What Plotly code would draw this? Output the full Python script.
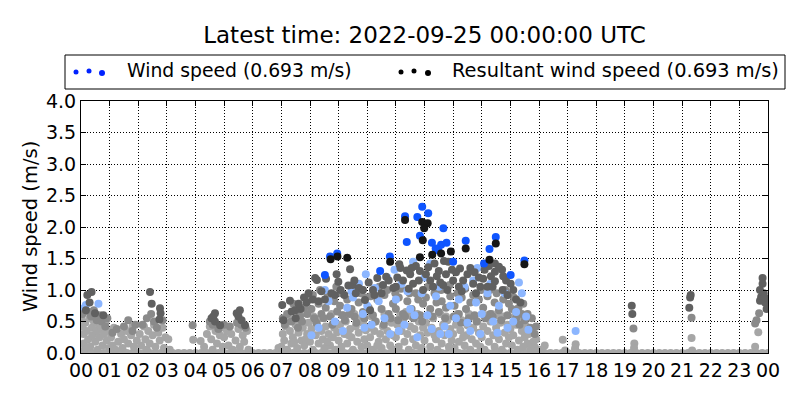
import plotly.graph_objects as go

# ---------------- data (hours of day, wind speed m/s) ----------------
HOUR_TICKS = list(range(25))
HOUR_LABELS = ["%02d" % (h % 24) for h in range(25)]
Y_TICKS = [0.0, 0.5, 1.0, 1.5, 2.0, 2.5, 3.0, 3.5, 4.0]
Y_LABELS = ["0.0", "0.5", "1.0", "1.5", "2.0", "2.5", "3.0", "3.5", "4.0"]

zero_times = [0.0, 0.2, 0.4, 0.6, 0.8, 1.0, 1.2, 1.4, 1.6, 1.8, 2.0, 2.2, 2.4, 2.6, 2.8,
              3.0, 3.2, 3.4, 3.6, 3.8, 4.0, 4.2, 4.4, 4.6, 4.8, 5.0, 5.2, 5.4, 5.6, 5.8,
              6.0, 6.2, 6.4, 6.6, 6.8, 7.0, 7.2, 7.4, 7.6, 7.8, 8.0, 8.2, 8.4, 8.6, 8.8,
              9.0, 9.2, 9.4, 9.6, 9.8, 10.0, 10.2, 10.4, 10.6, 10.8, 11.0, 11.2, 11.4, 11.6, 11.8,
              12.0, 12.2, 12.4, 12.6, 12.8, 13.0, 13.2, 13.4, 13.6, 13.8, 14.0, 14.2, 14.4, 14.6, 14.8,
              15.0, 15.2, 15.4, 15.6, 15.8, 16.0, 16.2, 16.4, 16.6, 16.8, 17.0, 17.2, 17.4, 17.6, 17.8,
              18.0, 18.2, 18.4, 18.6, 18.8, 19.0, 19.2, 19.4, 19.6, 19.8, 20.0, 20.2, 20.4, 20.6, 20.8,
              21.0, 21.2, 21.4, 21.6, 21.8, 22.0, 22.2, 22.4, 22.6, 22.8, 23.0, 23.2, 23.4, 23.6, 23.8, 24.0]
zero_speeds = [0.0] * len(zero_times)

light_grey = [
    (0.02, 0.55), (0.05, 0.42), (0.08, 0.30), (0.1, 0.15), (0.12, 0.05), (0.15, 0.48), (0.2, 0.35),
    (0.25, 0.22), (0.3, 0.55), (0.32, 0.10), (0.38, 0.40), (0.4, 0.28), (0.45, 0.50), (0.5, 0.18),
    (0.55, 0.35), (0.58, 0.05), (0.62, 0.45), (0.65, 0.25), (0.7, 0.38), (0.75, 0.12), (0.8, 0.30),
    (0.85, 0.48), (0.9, 0.20), (0.95, 0.35), (0.98, 0.08),
    (1.05, 0.25), (1.1, 0.12), (1.15, 0.40), (1.2, 0.05), (1.3, 0.18), (1.4, 0.30), (1.45, 0.08),
    (1.5, 0.22), (1.6, 0.35), (1.65, 0.15), (1.75, 0.28), (1.8, 0.42), (1.85, 0.10), (1.95, 0.20),
    (2.05, 0.30), (2.1, 0.12), (2.2, 0.42), (2.25, 0.22), (2.3, 0.05), (2.35, 0.35), (2.4, 0.15),
    (2.5, 0.28), (2.55, 0.45), (2.6, 0.10), (2.7, 0.32), (2.75, 0.20), (2.85, 0.40), (2.9, 0.08),
    (2.95, 0.25), (3.05, 0.22), (3.1, 0.05), (3.92, 0.21), (4.18, 0.19),
    (4.3, 0.10), (4.4, 0.30), (4.5, 0.42), (4.55, 0.22), (4.6, 0.05), (4.7, 0.35), (4.75, 0.15),
    (4.85, 0.28), (4.9, 0.40), (4.95, 0.10), (5.0, 0.25), (5.1, 0.35), (5.15, 0.12), (5.25, 0.30),
    (5.3, 0.05), (5.4, 0.20), (5.5, 0.38), (5.55, 0.10), (5.65, 0.28), (5.7, 0.18), (5.8, 0.35),
    (5.85, 0.05), (6.9, 0.08),
    (7.0, 0.10), (7.05, 0.30), (7.1, 0.20), (7.15, 0.42), (7.2, 0.05), (7.3, 0.35), (7.35, 0.15),
    (7.4, 0.25), (7.5, 0.45), (7.55, 0.08), (7.6, 0.32), (7.7, 0.20), (7.75, 0.40), (7.8, 0.12),
    (7.9, 0.30), (7.95, 0.48), (7.25, 0.55), (7.45, 0.18), (7.65, 0.60), (7.85, 0.22),
    (8.0, 0.18), (8.05, 0.38), (8.1, 0.05), (8.2, 0.28), (8.25, 0.45), (8.3, 0.15), (8.4, 0.35),
    (8.45, 0.22), (8.5, 0.08), (8.55, 0.42), (8.65, 0.30), (8.7, 0.12), (8.8, 0.25), (8.85, 0.40),
    (8.9, 0.05), (8.95, 0.33), (8.12, 0.58), (8.35, 0.55), (8.6, 0.18), (8.75, 0.62),
    (9.0, 0.20), (9.05, 0.45), (9.1, 0.10), (9.2, 0.30), (9.25, 0.50), (9.3, 0.15), (9.4, 0.38),
    (9.45, 0.25), (9.5, 0.05), (9.6, 0.42), (9.65, 0.18), (9.7, 0.32), (9.8, 0.10), (9.85, 0.48),
    (9.9, 0.22), (9.95, 0.36), (9.12, 0.60), (9.35, 0.28), (9.55, 0.62), (9.75, 0.55),
    (10.0, 0.12), (10.05, 0.40), (10.1, 0.25), (10.2, 0.05), (10.25, 0.35), (10.3, 0.50), (10.4, 0.18),
    (10.45, 0.30), (10.5, 0.08), (10.55, 0.42), (10.65, 0.22), (10.7, 0.35), (10.8, 0.12), (10.85, 0.48),
    (10.9, 0.28), (10.95, 0.05), (10.15, 0.58), (10.35, 0.12), (10.6, 0.62), (10.75, 0.52),
    (11.0, 0.25), (11.05, 0.45), (11.1, 0.10), (11.2, 0.35), (11.25, 0.52), (11.3, 0.18), (11.4, 0.30),
    (11.45, 0.05), (11.5, 0.42), (11.6, 0.22), (11.65, 0.38), (11.7, 0.12), (11.8, 0.50), (11.85, 0.28),
    (11.9, 0.08), (11.95, 0.40), (11.15, 0.60), (11.35, 0.65), (11.55, 0.58), (11.75, 0.62),
    (12.0, 0.20), (12.05, 0.48), (12.1, 0.32), (12.2, 0.10), (12.25, 0.40), (12.3, 0.55), (12.4, 0.22),
    (12.45, 0.05), (12.5, 0.35), (12.6, 0.15), (12.65, 0.45), (12.7, 0.28), (12.8, 0.52), (12.85, 0.10),
    (12.9, 0.38), (12.95, 0.20), (12.15, 0.60), (12.35, 0.28), (12.55, 0.62), (12.75, 0.58),
    (13.0, 0.30), (13.05, 0.08), (13.1, 0.45), (13.2, 0.18), (13.25, 0.36), (13.3, 0.52), (13.4, 0.12),
    (13.45, 0.28), (13.5, 0.44), (13.6, 0.05), (13.65, 0.22), (13.7, 0.40), (13.8, 0.15), (13.85, 0.50),
    (13.9, 0.32), (13.95, 0.10), (13.15, 0.62), (13.35, 0.25), (13.55, 0.62), (13.75, 0.58),
    (14.0, 0.25), (14.05, 0.42), (14.1, 0.05), (14.2, 0.35), (14.25, 0.18), (14.3, 0.50), (14.4, 0.28),
    (14.45, 0.10), (14.5, 0.40), (14.6, 0.22), (14.65, 0.48), (14.7, 0.05), (14.8, 0.32), (14.85, 0.15),
    (14.9, 0.45), (14.95, 0.25), (14.15, 0.60), (14.35, 0.62), (14.55, 0.60), (14.75, 0.58),
    (15.0, 0.38), (15.05, 0.12), (15.1, 0.28), (15.2, 0.45), (15.25, 0.05), (15.3, 0.20), (15.4, 0.35),
    (15.45, 0.10), (15.5, 0.25), (15.6, 0.15), (15.65, 0.30), (15.7, 0.05), (15.8, 0.18), (15.85, 0.10),
    (15.9, 0.22), (15.95, 0.05), (15.15, 0.58), (15.35, 0.52), (15.55, 0.42), (15.75, 0.35),
    (16.1, 0.05), (16.2, 0.12), (16.83, 0.21), (16.91, 0.04), (17.28, 0.14), (17.26, 0.07),
    (19.33, 0.15), (19.32, 0.08), (21.33, 0.24), (21.35, 0.04), (23.55, 0.10), (23.66, 0.33),
]

mid_grey = [
    (0.05, 0.62), (0.15, 0.70), (0.28, 0.65), (0.35, 0.58), (0.45, 0.68), (0.55, 0.52), (0.65, 0.60),
    (0.72, 0.50), (0.85, 0.42), (0.92, 0.55),
    (1.1, 0.32), (1.25, 0.38), (1.5, 0.42), (1.65, 0.52), (1.8, 0.35), (1.9, 0.45),
    (2.15, 0.45), (2.3, 0.55), (2.45, 0.62), (2.55, 0.50), (2.65, 0.40), (2.85, 0.52), (3.90, 0.44),
    (4.5, 0.50), (4.6, 0.45), (4.8, 0.38), (5.0, 0.45), (5.2, 0.42), (5.45, 0.48), (5.6, 0.45), (5.75, 0.40),
    (7.05, 0.55), (7.2, 0.62), (7.35, 0.50), (7.5, 0.68), (7.65, 0.58), (7.8, 0.72), (7.9, 0.62),
    (8.05, 0.70), (8.15, 0.55), (8.3, 0.78), (8.4, 0.62), (8.55, 0.72), (8.7, 0.58), (8.85, 0.82), (8.95, 0.66),
    (9.05, 0.75), (9.15, 0.60), (9.3, 0.85), (9.45, 0.70), (9.55, 0.58), (9.7, 0.80), (9.85, 0.65), (9.95, 0.88),
    (10.05, 0.72), (10.2, 0.60), (10.35, 0.85), (10.5, 0.70), (10.6, 0.92), (10.75, 0.62), (10.9, 0.78),
    (11.0, 0.70), (11.1, 0.88), (11.25, 0.62), (11.4, 0.82), (11.55, 0.70), (11.7, 0.95), (11.85, 0.60),
    (11.95, 0.78), (12.05, 0.88), (12.2, 0.70), (12.35, 0.95), (12.5, 0.65), (12.6, 0.82), (12.75, 0.72),
    (12.9, 0.90), (13.05, 0.75), (13.2, 0.62), (13.3, 0.88), (13.45, 0.70), (13.6, 0.80), (13.75, 0.60),
    (13.9, 0.85), (14.05, 0.72), (14.2, 0.90), (14.3, 0.62), (14.45, 0.80), (14.6, 0.68), (14.75, 0.85),
    (14.9, 0.60), (15.05, 0.70), (15.2, 0.55), (15.28, 0.71), (15.4, 0.62), (15.51, 0.52), (15.7, 0.40),
    (15.85, 0.30), (19.30, 0.39), (21.33, 0.56), (23.6, 0.52), (23.55, 0.47), (23.69, 0.63),
    (7.12, 0.45), (7.42, 0.78), (7.58, 0.40), (7.72, 0.50), (7.98, 0.85), (8.1, 0.92), (8.22, 0.48),
    (8.35, 1.00), (8.48, 0.55), (8.62, 0.90), (8.78, 0.45), (8.92, 1.05), (9.1, 0.95), (9.22, 0.52),
    (9.38, 0.62), (9.52, 1.00), (9.62, 0.48), (9.78, 0.95), (9.9, 0.55), (10.12, 0.90), (10.28, 0.50),
    (10.42, 1.05), (10.58, 0.45), (10.7, 1.00), (10.82, 0.55), (10.98, 0.95), (11.08, 0.52), (11.18, 1.02),
    (11.32, 0.58), (11.48, 0.95), (11.62, 0.55), (11.78, 0.85), (11.92, 0.50), (12.12, 1.05), (12.28, 0.58),
    (12.42, 0.80), (12.58, 1.00), (12.72, 0.55), (12.88, 1.08), (13.02, 0.58), (13.15, 0.95), (13.28, 0.48),
    (13.42, 1.02), (13.55, 0.55), (13.7, 0.92), (13.82, 0.50), (13.98, 1.00), (14.12, 0.55), (14.28, 1.00),
    (14.38, 0.58), (14.52, 0.95), (14.68, 0.52), (14.82, 1.00), (14.95, 0.78), (15.12, 0.88), (15.32, 0.45),
    (15.45, 0.78), (15.6, 0.62), (15.75, 0.55), (15.9, 0.42),
]

light_blue = [
    (0.17, 0.76), (0.61, 0.78), (0.12, 0.72), (8.3, 0.40), (8.52, 1.00), (8.87, 0.50), (9.3, 0.72),
    (9.5, 0.88), (9.71, 1.10), (9.9, 0.40), (10.0, 0.75), (10.27, 1.03), (10.6, 0.55), (10.8, 0.30),
    (11.0, 0.85), (11.2, 1.10), (11.3, 0.45), (11.5, 0.70), (11.75, 0.25), (11.9, 0.95), (12.0, 1.20),
    (12.1, 0.60), (12.4, 0.90), (12.55, 0.30), (12.7, 0.42), (12.9, 0.75), (13.1, 0.55), (13.4, 1.05),
    (13.6, 0.35), (13.8, 0.80), (14.0, 0.62), (14.2, 0.95), (14.4, 0.50), (14.6, 0.75), (14.9, 0.40),
    (15.2, 0.65), (15.4, 0.95), (15.63, 0.37), (17.28, 0.35),
    (8.05, 0.28), (8.65, 0.82), (9.15, 0.35), (9.45, 0.98), (9.85, 0.62), (10.15, 0.45), (10.4, 0.82),
    (10.7, 1.20), (11.1, 0.35), (11.4, 0.98), (11.65, 0.60), (12.25, 0.38), (12.5, 1.05), (12.85, 0.30),
    (13.2, 0.85), (13.5, 0.48), (13.7, 1.15), (13.95, 0.30), (14.3, 1.10), (14.55, 0.32), (14.8, 0.95),
    (15.1, 0.50), (15.3, 1.12), (15.55, 0.58), (10.95, 1.32), (12.2, 1.42), (13.85, 1.35), (11.6, 1.45),
    (9.95, 1.25),
]

dark_grey = [
    (0.37, 0.97), (0.22, 0.92), (0.17, 0.68), (0.49, 0.63), (0.78, 0.60), (0.3, 0.80),
    (2.41, 0.97), (2.47, 0.78), (2.76, 0.71), (2.78, 0.63), (2.74, 0.53),
    (4.68, 0.63), (4.62, 0.58), (4.56, 0.55), (4.68, 0.50), (4.86, 0.44),
    (5.55, 0.68), (5.44, 0.63), (5.50, 0.58), (5.61, 0.52), (5.73, 0.44),
    (7.03, 0.76), (7.30, 0.83), (7.79, 0.88), (7.88, 0.80), (7.67, 0.70), (7.48, 0.68), (7.36, 0.66),
    (7.07, 0.52), (7.5, 0.55), (8.18, 1.19), (8.24, 1.16), (8.3, 0.82), (8.52, 0.85), (8.56, 1.18),
    (8.93, 1.25), (8.99, 1.13), (9.07, 1.00), (8.75, 0.95), (8.87, 0.92), (9.34, 1.07), (9.49, 1.08),
    (9.71, 1.03), (9.40, 1.33), (9.92, 0.84), (10.1, 0.68), (10.35, 1.19), (10.66, 1.21), (10.91, 1.03),
    (11.12, 1.41), (11.16, 1.35), (11.38, 1.31), (11.05, 1.20), (11.25, 1.15), (11.5, 1.25), (11.6, 1.10),
    (11.7, 1.38), (11.84, 1.30), (12.13, 1.36), (12.43, 1.22), (12.68, 1.46), (12.83, 1.45), (13.24, 1.34),
    (12.96, 1.32), (12.3, 1.05), (12.55, 1.12), (13.0, 1.15), (13.5, 1.25), (13.7, 1.10), (13.9, 1.20),
    (14.05, 1.18), (14.2, 1.05), (14.32, 1.22), (14.46, 1.42), (14.46, 1.29), (14.6, 1.37), (14.71, 1.32),
    (14.75, 1.22), (15.01, 1.10), (14.73, 1.00), (14.46, 1.14), (10.5, 0.95), (10.2, 1.00), (9.6, 0.95),
    (11.95, 1.00), (12.8, 1.00), (13.3, 0.98), (13.8, 0.95), (15.2, 0.85), (15.35, 0.80),
    (10.05, 1.12), (10.25, 0.92), (10.55, 1.08), (10.75, 1.15), (11.0, 1.05), (11.45, 1.02), (11.55, 1.35),
    (11.8, 1.15), (12.05, 1.25), (12.2, 1.15), (12.35, 1.42), (12.5, 1.30), (12.65, 1.08), (12.75, 1.25),
    (13.1, 1.28), (13.2, 1.05), (13.35, 1.15), (13.6, 1.35), (13.75, 1.28), (13.95, 1.05), (14.1, 1.32),
    (14.25, 1.38), (14.38, 1.05), (14.85, 1.15), (14.9, 0.92), (15.1, 1.00), (9.2, 0.92), (9.55, 1.15),
    (9.85, 1.00), (8.4, 0.98), (8.1, 0.85), (7.6, 0.78), (7.95, 0.95),
    (19.24, 0.75), (19.26, 0.62), (21.30, 0.92), (21.28, 0.88), (21.25, 0.72),
    (23.81, 1.19), (23.81, 1.10), (23.72, 1.00), (23.76, 0.89), (23.72, 0.83), (23.85, 0.95),
    (23.9, 0.80), (23.95, 0.70), (23.88, 0.88),
]

wind_speed = [
    (8.70, 1.53), (8.95, 1.58), (8.52, 1.24), (10.45, 1.30), (10.79, 1.53), (11.32, 2.17), (11.92, 2.32),
    (11.75, 2.16), (12.13, 2.22), (11.84, 1.86), (11.38, 1.76), (12.66, 1.98), (12.26, 1.75),
    (12.58, 1.72), (12.77, 1.75), (12.39, 1.66), (12.48, 1.63), (13.44, 1.78), (14.49, 1.84),
    (14.27, 1.65), (15.49, 1.47), (14.08, 1.42), (13.0, 1.45), (15.01, 1.24),
]

resultant_speed = [
    (8.72, 1.49), (8.96, 1.53), (9.30, 1.51), (10.80, 1.45), (11.32, 2.11), (11.92, 2.08), (12.11, 2.06),
    (11.99, 1.98), (11.94, 1.79), (12.27, 1.56), (12.58, 1.58), (12.92, 1.61), (11.84, 1.52),
    (13.44, 1.66), (14.49, 1.74), (14.27, 1.48), (15.49, 1.41),
]

TITLE = "Latest time: 2022-09-25 00:00:00 UTC"
LEGEND_WIND = "Wind speed (0.693 m/s)"
LEGEND_RESULTANT = "Resultant wind speed (0.693 m/s)"

# ---------------- figure ----------------
FONT = "DejaVu Sans"
OFF = 8  # page body margin of the browser
W, H = 800 - OFF, 400 - OFF
L, R, T, B = 81 - OFF, 768 - OFF, 101 - OFF, 353 - OFF


def pxx(px):
    return (px - OFF - L) / (R - L)


def pxy(py):
    return (B - (py - OFF)) / (B - T)


fig = go.Figure()


def add_points(pairs, color, size=8):
    fig.add_trace(go.Scatter(
        x=[p[0] for p in pairs], y=[p[1] for p in pairs], mode="markers",
        marker=dict(color=color, size=size, line=dict(width=0)),
        showlegend=False, hoverinfo="skip"))


add_points(list(zip(zero_times, zero_speeds)), "#a8a8a8")
add_points(light_grey, "#a6a6a6")
add_points(mid_grey, "#8a8a8a")
add_points(light_blue, "#8cb6ff")
add_points(dark_grey, "#606060")
add_points(wind_speed, "#0f55ff")
add_points(resultant_speed, "#161616")

shapes = [dict(type="rect", xref="paper", yref="paper", x0=pxx(65), x1=pxx(785),
               y0=pxy(89), y1=pxy(55), line=dict(color="black", width=1), fillcolor="white")]


def dot(cx, cy, d, color):
    return dict(type="circle", xref="paper", yref="paper",
                x0=pxx(cx - d / 2), x1=pxx(cx + d / 2), y0=pxy(cy + d / 2), y1=pxy(cy - d / 2),
                line=dict(width=0), fillcolor=color)


for cx, cy, d in [(76, 72, 5), (89, 71, 5), (102, 73, 6)]:
    shapes.append(dot(cx, cy, d, "#0022ff"))
for cx, cy, d in [(401, 72, 5), (414, 71, 5), (428, 73, 6)]:
    shapes.append(dot(cx, cy, d, "#000000"))

annotations = [
    dict(text=LEGEND_WIND, xref="paper", yref="paper", x=pxx(125), y=pxy(71),
         xanchor="left", yanchor="middle", showarrow=False, font=dict(size=18.8, color="black")),
    dict(text=LEGEND_RESULTANT, xref="paper", yref="paper", x=pxx(450), y=pxy(71),
         xanchor="left", yanchor="middle", showarrow=False, font=dict(size=19.4, color="black")),
    dict(text="Wind speed (m/s)", xref="paper", yref="paper", x=pxx(30), y=0.5, textangle=-90,
         xanchor="center", yanchor="middle", showarrow=False, font=dict(size=19.5, color="black")),
]

axis_common = dict(showline=True, linecolor="black", linewidth=1, mirror="ticks",
                   ticks="inside", ticklen=5, tickcolor="black", tickwidth=1,
                   showgrid=True, gridcolor="black", gridwidth=1, griddash="1px,2px",
                   zeroline=False, tickfont=dict(size=19, color="black"))

fig.update_layout(
    width=W, height=H,
    margin=dict(l=L, r=W - R, t=T, b=H - B, autoexpand=False),
    paper_bgcolor="white", plot_bgcolor="white",
    font=dict(family=FONT, color="black"),
    title=dict(text=TITLE, x=0.5, xref="paper", xanchor="center", y=1 - (35 - OFF) / H, yanchor="middle",
               font=dict(size=23, color="black")),
    xaxis=dict(range=[0, 24], tickvals=HOUR_TICKS, ticktext=HOUR_LABELS, **axis_common),
    yaxis=dict(range=[0, 4], tickvals=Y_TICKS, ticktext=Y_LABELS, **axis_common),
    shapes=shapes, annotations=annotations, showlegend=False,
)

fig.write_html("out.html")
